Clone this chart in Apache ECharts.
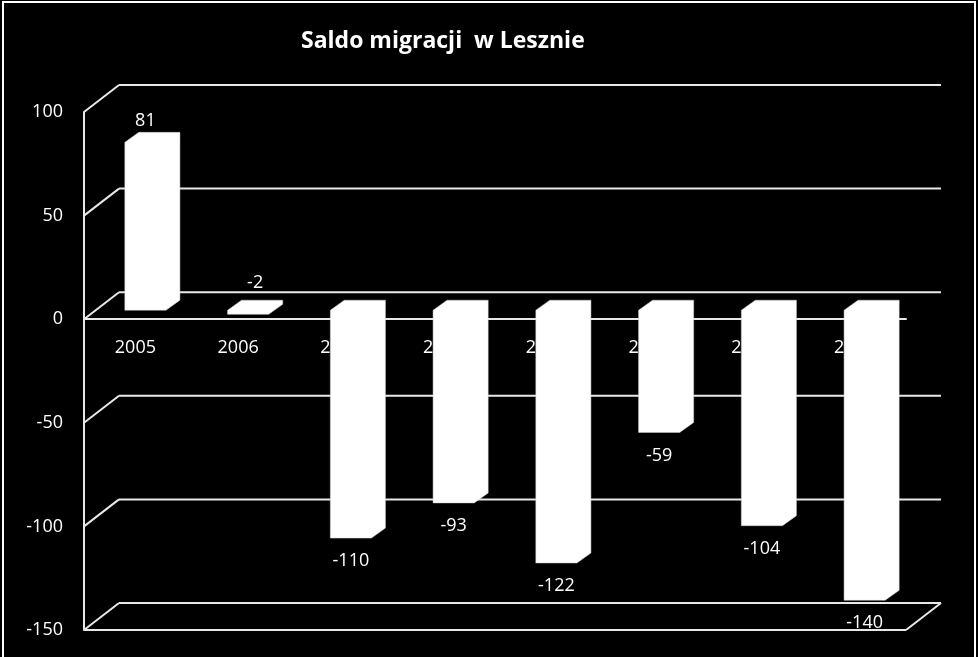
<!DOCTYPE html>
<html>
<head>
<meta charset="utf-8">
<script src="https://cdn.jsdelivr.net/npm/echarts@6/dist/echarts.min.js"></script>
<style>
  html, body { margin: 0; padding: 0; background: #000; }
  #chart { width: 978px; height: 657px; }
</style>
</head>
<body>
<div id="chart"></div>
<script>
var myChart = echarts.init(document.getElementById('chart'));

var years = ['2005', '2006', '2007', '2008', '2009', '2010', '2011', '2012'];
var saldo = [81, -2, -110, -93, -122, -59, -104, -140];
var yTicks = [-150, -100, -50, 0, 50, 100];

// perspective offsets of the 3D look
var DEPTH = [35, -27];      // front plane -> back wall
var BAR_FRONT = [10, -9];   // front face of a bar from front plane
var BAR_SIDE = [14, -10];   // bar thickness
var LINE = '#e8e8e8';
var FONT = 'Open Sans';
var FSIZE = 18;

function renderBar(params, api) {
    var idx = api.value(0);
    var v = api.value(1);
    var p0 = api.coord([idx, 0]);
    var p1 = api.coord([idx, v]);
    var w = api.size([1, 0])[0] * 0.4;
    var x0 = p0[0] - w / 2 + BAR_FRONT[0];
    var x1 = x0 + w;
    var yTop = Math.min(p0[1], p1[1]) + BAR_FRONT[1];
    var yBot = Math.max(p0[1], p1[1]) + BAR_FRONT[1];
    var sx = BAR_SIDE[0], sy = BAR_SIDE[1];
    var labelAbove = v > -5;
    return {
        type: 'group',
        children: [
            {
                type: 'polygon',
                shape: {
                    points: [
                        [x0, yTop], [x0 + sx, yTop + sy], [x1 + sx, yTop + sy],
                        [x1 + sx, yBot + sy], [x1, yBot], [x0, yBot]
                    ]
                },
                style: { fill: '#ffffff', stroke: '#d0d0d0', lineWidth: 0.5 }
            },
            {
                type: 'text',
                style: {
                    x: (x0 + x1) / 2 + (v < 0 && labelAbove ? 7 : 0),
                    y: labelAbove ? yTop - 21 - (v < 0 ? 6 : 0) : yBot + 23,
                    text: String(v),
                    fill: '#ffffff',
                    font: FSIZE + 'px "' + FONT + '"',
                    align: 'center',
                    verticalAlign: 'middle'
                }
            }
        ]
    };
}

// year labels sit on the zero floor, behind the bars
function renderYear(params, api) {
    var p = api.coord([api.value(0), 0]);
    return {
        type: 'text',
        style: {
            x: p[0],
            y: p[1] + 29,
            text: years[params.dataIndex],
            fill: '#ffffff',
            font: FSIZE + 'px "' + FONT + '"',
            align: 'center',
            verticalAlign: 'middle'
        }
    };
}

function renderWall(params, api) {
    var v = api.value(1);
    var cs = params.coordSys;
    var y = api.coord([0, v])[1];
    var left = cs.x, right = cs.x + cs.width;
    var dx = DEPTH[0], dy = DEPTH[1];
    var st = { stroke: LINE, lineWidth: 2 };
    var kids = [
        { type: 'line', shape: { x1: left, y1: y, x2: left + dx, y2: y + dy }, style: st },
        { type: 'line', shape: { x1: left + dx, y1: y + dy, x2: right + dx, y2: y + dy }, style: st }
    ];
    if (v === yTicks[0]) {
        kids.push({ type: 'line', shape: { x1: left, y1: y, x2: right, y2: y }, style: st });
        kids.push({ type: 'line', shape: { x1: right, y1: y, x2: right + dx, y2: y + dy }, style: st });
    }
    return { type: 'group', children: kids };
}

option = {
    backgroundColor: '#000000',
    animation: false,
    title: {
        text: 'Saldo migracji  w Lesznie',
        left: 296,
        top: 25,
        textStyle: { color: '#ffffff', fontFamily: FONT, fontWeight: 'bold', fontSize: 23 }
    },
    graphic: [{
        type: 'rect',
        shape: { x: 3, y: 2, width: 972, height: 680 },
        style: { fill: 'none', stroke: '#ffffff', lineWidth: 2 },
        silent: true
    }],
    grid: { left: 84, right: 72, top: 112, bottom: 27, outerBoundsMode: 'none', containLabel: false },
    xAxis: {
        type: 'category',
        data: years,
        axisLine: { onZero: true, lineStyle: { color: LINE, width: 2 } },
        axisTick: { show: false },
        axisLabel: { show: false },
        splitLine: { show: false }
    },
    yAxis: {
        type: 'value',
        min: -150,
        max: 100,
        interval: 50,
        axisLine: { show: true, lineStyle: { color: LINE, width: 2 } },
        axisTick: { show: false },
        axisLabel: { color: '#ffffff', fontFamily: FONT, fontSize: FSIZE, margin: 21 },
        splitLine: { show: false }
    },
    series: [
        {
            type: 'custom',
            z: 1,
            clip: false,
            silent: true,
            renderItem: renderWall,
            data: yTicks.map(function (t) { return [0, t]; })
        },
        {
            type: 'custom',
            z: 2,
            clip: false,
            silent: true,
            renderItem: renderYear,
            data: years.map(function (y, i) { return [i, 0]; })
        },
        {
            type: 'custom',
            z: 5,
            clip: false,
            renderItem: renderBar,
            data: saldo.map(function (v, i) { return [i, v]; })
        }
    ]
};

myChart.setOption(option);
</script>
</body>
</html>
